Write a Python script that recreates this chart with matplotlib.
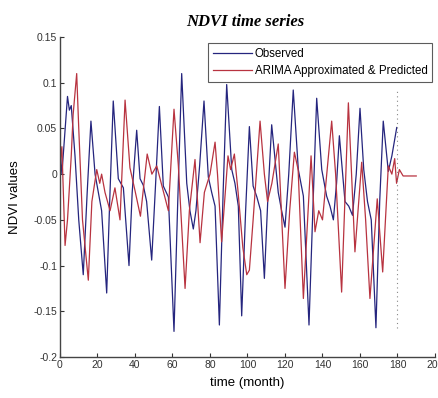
import matplotlib
matplotlib.use("Agg")
import matplotlib.pyplot as plt

# Observed series (vertices)
obs_month = [0, 1, 4, 5, 6, 8, 10, 12.4, 14.5, 16.5,
             18.7, 22.2, 24.9, 26.5, 28.4, 31.1, 33.8, 36.8, 38.5, 40.9,
             42.7, 44.4, 46.2, 48.9, 51, 53, 55.1, 57.8, 60.8, 62.8,
             64.9, 67.6, 69.3, 71.1, 72.5, 74.5, 76.8, 79.1, 80.9, 82.7,
             85, 87, 88.9, 91.6, 93.3, 95.1, 96.9, 99, 101, 103,
             105, 107, 109, 111, 112.9, 116.4, 118.2, 120, 122, 124.4,
             127.1, 129.8, 132.8, 135, 136.9, 139.6, 142.2, 144, 145.8, 147.5,
             149, 152, 154, 156, 158, 160, 162, 164, 166, 168.5,
             170.5, 172.4, 175.1, 177, 179.6]
obs_ndvi = [0.03, 0.0, 0.085, 0.07, 0.075, 0.02, -0.05, -0.11, -0.02, 0.058,
            0.0, -0.04, -0.13, -0.03, 0.08, -0.005, -0.015, -0.10, -0.02, 0.048,
            -0.005, -0.012, -0.03, -0.094, -0.01, 0.074, -0.013, -0.025, -0.172, -0.03,
            0.11, -0.01, -0.04, -0.06, -0.04, 0.01, 0.08, -0.003, -0.02, -0.035,
            -0.165, -0.02, 0.098, 0.005, -0.01, -0.035, -0.155, -0.04, 0.052, -0.013,
            -0.025, -0.04, -0.114, -0.02, 0.054, -0.02, -0.04, -0.058, 0.0, 0.092,
            0.005, -0.024, -0.165, -0.03, 0.083, 0.005, -0.024, -0.035, -0.05, -0.01,
            0.042, -0.03, -0.035, -0.045, 0.0, 0.072, 0.005, -0.03, -0.05, -0.168,
            -0.03, 0.058, 0.003, 0.02, 0.051]

# ARIMA approximated & predicted series
arima_month = [0, 1, 2.7, 4, 6, 7, 8.9, 10, 12, 15.1,
               17, 19.6, 21.2, 22.2, 24, 26.7, 29.3, 32, 34.7, 37.3,
               40, 42.9, 46.5, 49, 51.6, 54, 57.8, 60.8, 63.1, 66.7,
               69, 72, 74.7, 77, 80, 82.7, 84, 86.2, 89.6, 91,
               93, 95, 97.5, 99.6, 101, 103, 106.7, 109, 110.7, 113,
               116.4, 120, 122.5, 125, 127, 129.8, 133.9, 136, 138, 140,
               144.9, 147, 150.2, 153.8, 155.5, 157.3, 160.9, 163, 165.3, 169.2,
               172.1, 175.1, 177, 178.5, 179.5, 181, 183, 190]
arima_ndvi = [0.01, 0.03, -0.078, -0.05, 0.02, 0.065, 0.11, 0.05, -0.05, -0.116,
              -0.03, 0.005, -0.01, 0.0, -0.02, -0.04, -0.015, -0.05, 0.081, 0.007,
              -0.018, -0.046, 0.022, 0.0, 0.009, -0.01, -0.04, 0.071, 0.01, -0.125,
              -0.04, 0.016, -0.075, -0.02, 0.0, 0.035, 0.0, -0.074, 0.02, 0.005,
              0.022, -0.02, -0.08, -0.11, -0.105, -0.05, 0.058, 0.0, -0.03, -0.01,
              0.033, -0.125, -0.04, 0.024, 0.005, -0.136, 0.02, -0.063, -0.04, -0.05,
              0.058, 0.0, -0.129, 0.078, 0.0, -0.085, 0.013, -0.05, -0.136, -0.027,
              -0.107, 0.009, 0.0, 0.017, -0.01, 0.005, -0.002, -0.002]

forecast_start = 180
x_ticks = [0, 20, 40, 60, 80, 100, 120, 140, 160, 180, 200]
y_ticks = [-0.2, -0.15, -0.1, -0.05, 0, 0.05, 0.1, 0.15]
y_tick_labels = ["-0.2", "-0.15", "-0.1", "-0.05", "0", "0.05", "0.1", "0.15"]

plt.rcParams['font.family'] = ['Liberation Sans', 'DejaVu Sans']

fig = plt.figure(figsize=(4.39, 3.98), dpi=100)
ax = fig.add_axes([60 / 439, 1 - 357 / 398, 375 / 439, 320 / 398])

ax.plot(obs_month, obs_ndvi, color='#25257e', lw=0.9, label='Observed')
ax.plot(arima_month, arima_ndvi, color='#b83340', lw=0.9,
        label='ARIMA Approximated & Predicted')
ax.plot([forecast_start, forecast_start], [-0.168, 0.092], color='#888888',
        lw=0.8, ls=(0, (1, 3)))

ax.set_xlim(0, 200)
ax.set_ylim(-0.2, 0.15)
ax.set_xticks(x_ticks)
ax.set_yticks(y_ticks)
ax.set_yticklabels(y_tick_labels)
ax.tick_params(direction='in', length=3, labelsize=7.5, colors='#333333', pad=2)
for s in ['top', 'right']:
    ax.spines[s].set_visible(False)
for s in ['left', 'bottom']:
    ax.spines[s].set_color('#444444')
    ax.spines[s].set_linewidth(1.0)

ax.set_xlabel('time (month)', fontsize=9.5, labelpad=5)
ax.set_ylabel('NDVI values', fontsize=9.5, labelpad=9)
fig.text(245 / 439, 1 - 22 / 398, 'NDVI time series', ha='center', va='center',
         fontsize=12, fontweight='bold', style='italic',
         family=['Liberation Serif', 'DejaVu Serif'])

leg = ax.legend(loc='upper right', bbox_to_anchor=(1 - 3 / 375, 1 - 6 / 320),
                fontsize=8.3, frameon=True, fancybox=False, handlelength=3.4,
                borderpad=0.4, labelspacing=0.5, handletextpad=0.2,
                borderaxespad=0.0)
leg.get_frame().set_edgecolor('#333333')
leg.get_frame().set_linewidth(0.8)

fig.savefig('out.png', dpi=100)
